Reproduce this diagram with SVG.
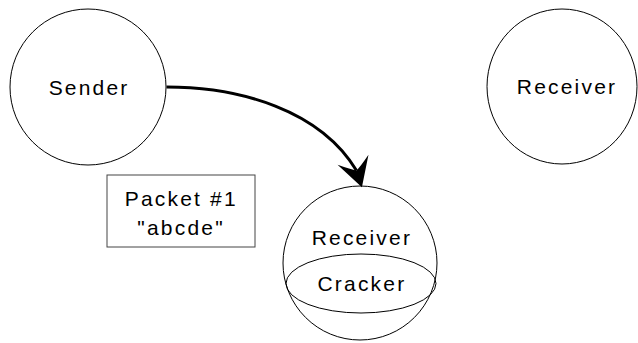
<svg xmlns="http://www.w3.org/2000/svg" width="638" height="343" viewBox="0 0 638 343">
  <style>
    .node { fill: #ffffff; stroke: #000000; stroke-width: 1; }
    .box { fill: #ffffff; stroke: #444444; stroke-width: 1; }
    .label { font-family: "Liberation Sans", Arial, sans-serif; font-size: 21px; letter-spacing: 2.2px; fill: #000000; text-anchor: middle; }
    .link { fill: none; stroke: #000000; stroke-width: 3; }
  </style>
  <defs>
    <marker id="barb" markerUnits="userSpaceOnUse" markerWidth="40" markerHeight="40" refX="0" refY="0" orient="72" viewBox="-12 -16 30 32" overflow="visible">
      <path d="M14,0 L-9,-13 Q-2,-4 0,0 Q-2,4 -9,13 Z" fill="#000000"/>
    </marker>
  </defs>

  <rect width="638" height="343" fill="#ffffff"/>

  <g id="sender">
    <circle class="node" cx="88" cy="87" r="78"/>
    <text class="label" x="89.1" y="95">Sender</text>
  </g>

  <g id="receiver">
    <ellipse class="node" cx="562" cy="86.5" rx="75" ry="77.5"/>
    <text class="label" x="567" y="94">Receiver</text>
  </g>

  <g id="packet">
    <rect class="box" x="107" y="175" width="148" height="72"/>
    <text class="label" x="181.3" y="206">Packet #1</text>
    <text class="label" x="181.1" y="234.5">"abcde"</text>
  </g>

  <g id="receiver-cracker">
    <circle class="node" cx="360" cy="263" r="77"/>
    <text class="label" x="361.9" y="245">Receiver</text>
    <ellipse fill="none" stroke="#000000" stroke-width="1" cx="361" cy="283.5" rx="75" ry="29.5"/>
    <text class="label" x="361.9" y="290.5">Cracker</text>
  </g>

  <g id="connectors">
    <path class="link" d="M166.5,87 C240,87 320,110 356.5,170.5" marker-end="url(#barb)"/>
  </g>
</svg>
